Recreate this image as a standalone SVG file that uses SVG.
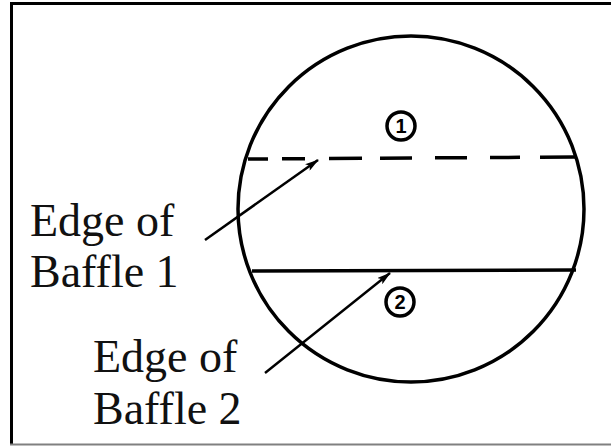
<svg xmlns="http://www.w3.org/2000/svg" width="611" height="446" viewBox="0 0 611 446">
<style>
.lbl{font-family:"Liberation Serif","Times New Roman",serif;font-size:46px;fill:#111}
.ln{stroke:#000;stroke-width:3.5;fill:none}
.num{font-family:"Liberation Sans",Arial,sans-serif;font-size:20px;font-weight:bold;fill:#000;text-anchor:middle}
</style>
<defs>
<marker id="ah" markerWidth="14" markerHeight="8" refX="13" refY="4" orient="auto" markerUnits="userSpaceOnUse">
<path d="M0,0 L14,4 L0,8 L3,4 Z" fill="#000"/>
</marker>
</defs>
<rect width="611" height="446" fill="#fff"/>
<g id="frame">
<line x1="11.5" y1="2" x2="11.5" y2="445" stroke="#000" stroke-width="3"/>
<line x1="10" y1="3.5" x2="611" y2="3.5" stroke="#000" stroke-width="3"/>
<line x1="10" y1="444.5" x2="611" y2="444.5" stroke="#808080" stroke-width="2"/>
</g>
<g id="vessel">
<circle cx="411" cy="209" r="173" class="ln" stroke-width="4"/>
</g>
<g id="baffle1">
<line x1="248" y1="159" x2="577" y2="157" class="ln" stroke-dasharray="20,14,23,24,33,18,32,23,32,23,30,20,34,0"/>
<circle cx="401" cy="126" r="14" class="ln" stroke-width="2.8"/>
<text x="401" y="133" class="num">1</text>
</g>
<g id="baffle2">
<line x1="252" y1="271" x2="576" y2="270" class="ln"/>
<circle cx="400" cy="302" r="14" class="ln" stroke-width="2.8"/>
<text x="400" y="309" class="num">2</text>
</g>
<g id="label1">
<text x="30" y="236" class="lbl">Edge of</text>
<text x="30" y="287" class="lbl">Baffle 1</text>
</g>
<g id="label2">
<text x="93" y="372" class="lbl">Edge of</text>
<text x="93" y="424" class="lbl">Baffle 2</text>
</g>
<g id="connectors">
<line x1="205" y1="240" x2="318" y2="160" stroke="#000" stroke-width="2.5" marker-end="url(#ah)"/>
<line x1="265" y1="373" x2="390" y2="273" stroke="#000" stroke-width="2.5" marker-end="url(#ah)"/>
</g>
</svg>
